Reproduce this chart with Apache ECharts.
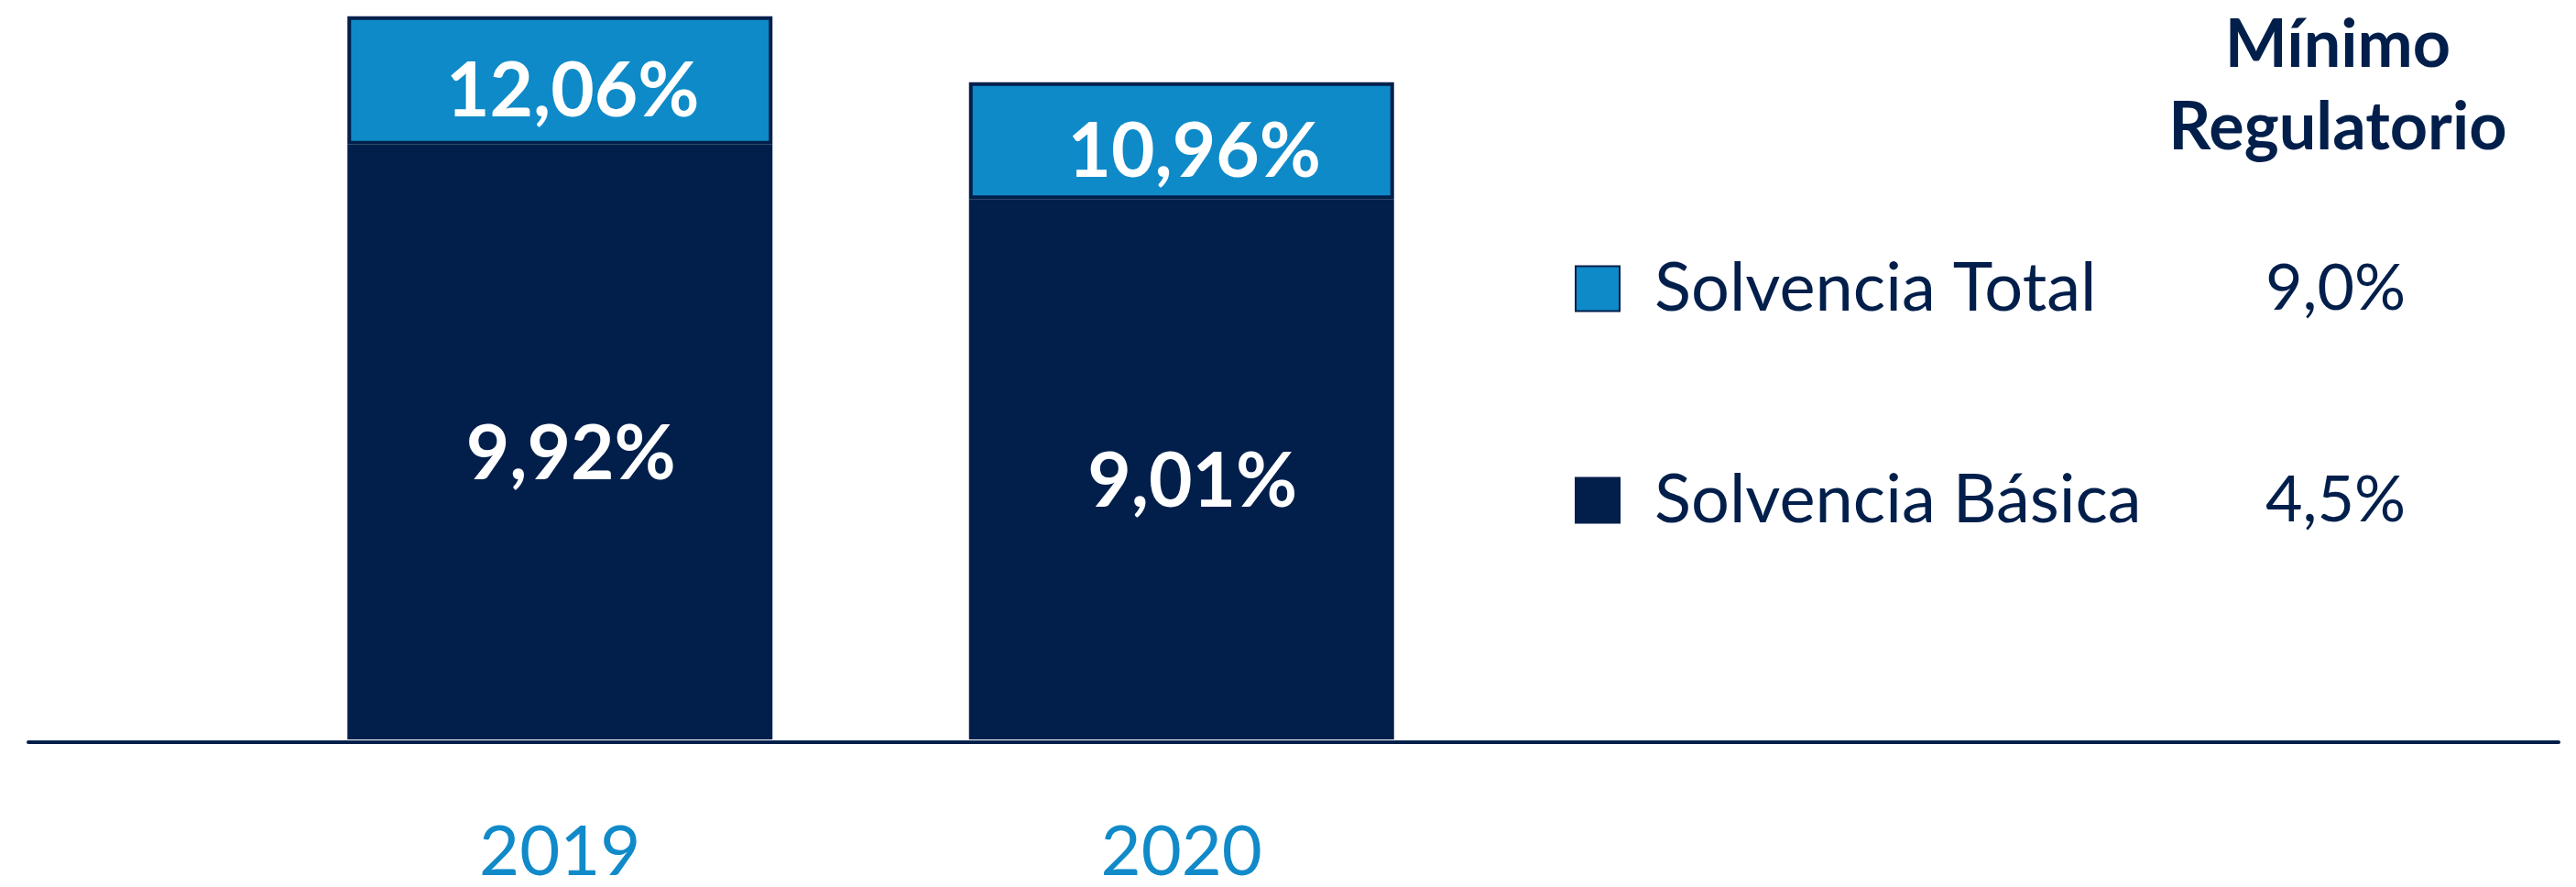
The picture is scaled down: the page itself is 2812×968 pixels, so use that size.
<!DOCTYPE html>
<html>
<head>
<meta charset="utf-8">
<script src="https://cdn.jsdelivr.net/npm/echarts@6/dist/echarts.min.js"></script>
<style>
  html, body { margin: 0; padding: 0; background: #ffffff; }
  #chart { width: 2812px; height: 968px; }
</style>
</head>
<body>
<div id="chart"></div>
<script>
// datos
var years = ['2019', '2020'];
var basicaVals = [9.92, 9.01];
var totalVals = [12.06, 10.96];
var legendNames = ['Solvencia Total', 'Solvencia Básica'];
var minimos = ['9,0%', '4,5%'];

var navy = '#021f4b';
var blue = '#0f8ac8';

function fmt(v) {
    return v.toFixed(2).replace('.', ',') + '%';
}

// tramo superior = total - básica (para apilar)
var restoVals = totalVals.map(function (t, i) {
    return +(t - basicaVals[i]).toFixed(2);
});

var myChart = echarts.init(document.getElementById('chart'));
var option = {
    backgroundColor: '#ffffff',
    animation: false,
    textStyle: { fontFamily: 'Lato' },
    title: {
        text: 'Mínimo\nRegulatorio',
        left: 2547,
        top: 0,
        textAlign: 'center',
        textStyle: {
            fontFamily: 'Lato',
            fontWeight: 'bold',
            fontSize: 72,
            lineHeight: 90,
            color: navy
        }
    },
    legend: {
        data: legendNames,
        orient: 'vertical',
        left: 1714,
        top: 273,
        icon: 'rect',
        itemWidth: 48,
        itemHeight: 49,
        itemGap: 157,
        selectedMode: false,
        formatter: function (name) {
            var i = legendNames.indexOf(name);
            return '{n|' + name + '}{v|' + minimos[i] + '}';
        },
        textStyle: {
            rich: {
                n: { fontFamily: 'Lato', fontSize: 74, lineHeight: 60, color: navy, width: 667, padding: [0, 0, 0, 33] },
                v: { fontFamily: 'Lato', fontSize: 70, lineHeight: 60, color: navy, width: 160 }
            }
        }
    },
    grid: [
        { left: 272, width: 1357, top: 0, bottom: 158 },
        { left: 31, right: 19, top: 0, bottom: 158 }
    ],
    xAxis: [
        {
            type: 'category',
            gridIndex: 0,
            data: years,
            axisLine: { show: false },
            axisTick: { show: false },
            axisLabel: {
                margin: 85,
                fontFamily: 'Lato',
                fontSize: 76,
                color: '#118ac9'
            }
        },
        {
            type: 'value',
            gridIndex: 1,
            min: 0,
            max: 1,
            axisLine: { show: true, lineStyle: { color: navy, width: 4 } },
            axisTick: { show: false },
            axisLabel: { show: false },
            splitLine: { show: false }
        }
    ],
    yAxis: [
        { type: 'value', gridIndex: 0, min: 0, max: 12.33, show: false },
        { type: 'value', gridIndex: 1, min: 0, max: 1, show: false }
    ],
    series: [
        {
            name: 'Solvencia Básica',
            type: 'bar',
            stack: 'solv',
            barWidth: 464,
            data: basicaVals,
            itemStyle: { color: navy, borderColor: navy, borderWidth: 4 },
            label: {
                show: true,
                position: 'inside',
                offset: [12, 14],
                fontFamily: 'Lato',
                fontWeight: 'bold',
                fontSize: 82,
                color: '#ffffff',
                formatter: function (p) { return fmt(basicaVals[p.dataIndex]); }
            }
        },
        {
            name: 'Solvencia Total',
            type: 'bar',
            stack: 'solv',
            barWidth: 464,
            data: restoVals,
            itemStyle: { color: blue, borderColor: navy, borderWidth: 4 },
            label: {
                show: true,
                position: 'inside',
                offset: [14, 13],
                fontFamily: 'Lato',
                fontWeight: 'bold',
                fontSize: 82,
                color: '#ffffff',
                formatter: function (p) { return fmt(totalVals[p.dataIndex]); }
            }
        }
    ]
};
myChart.setOption(option);
</script>
</body>
</html>
